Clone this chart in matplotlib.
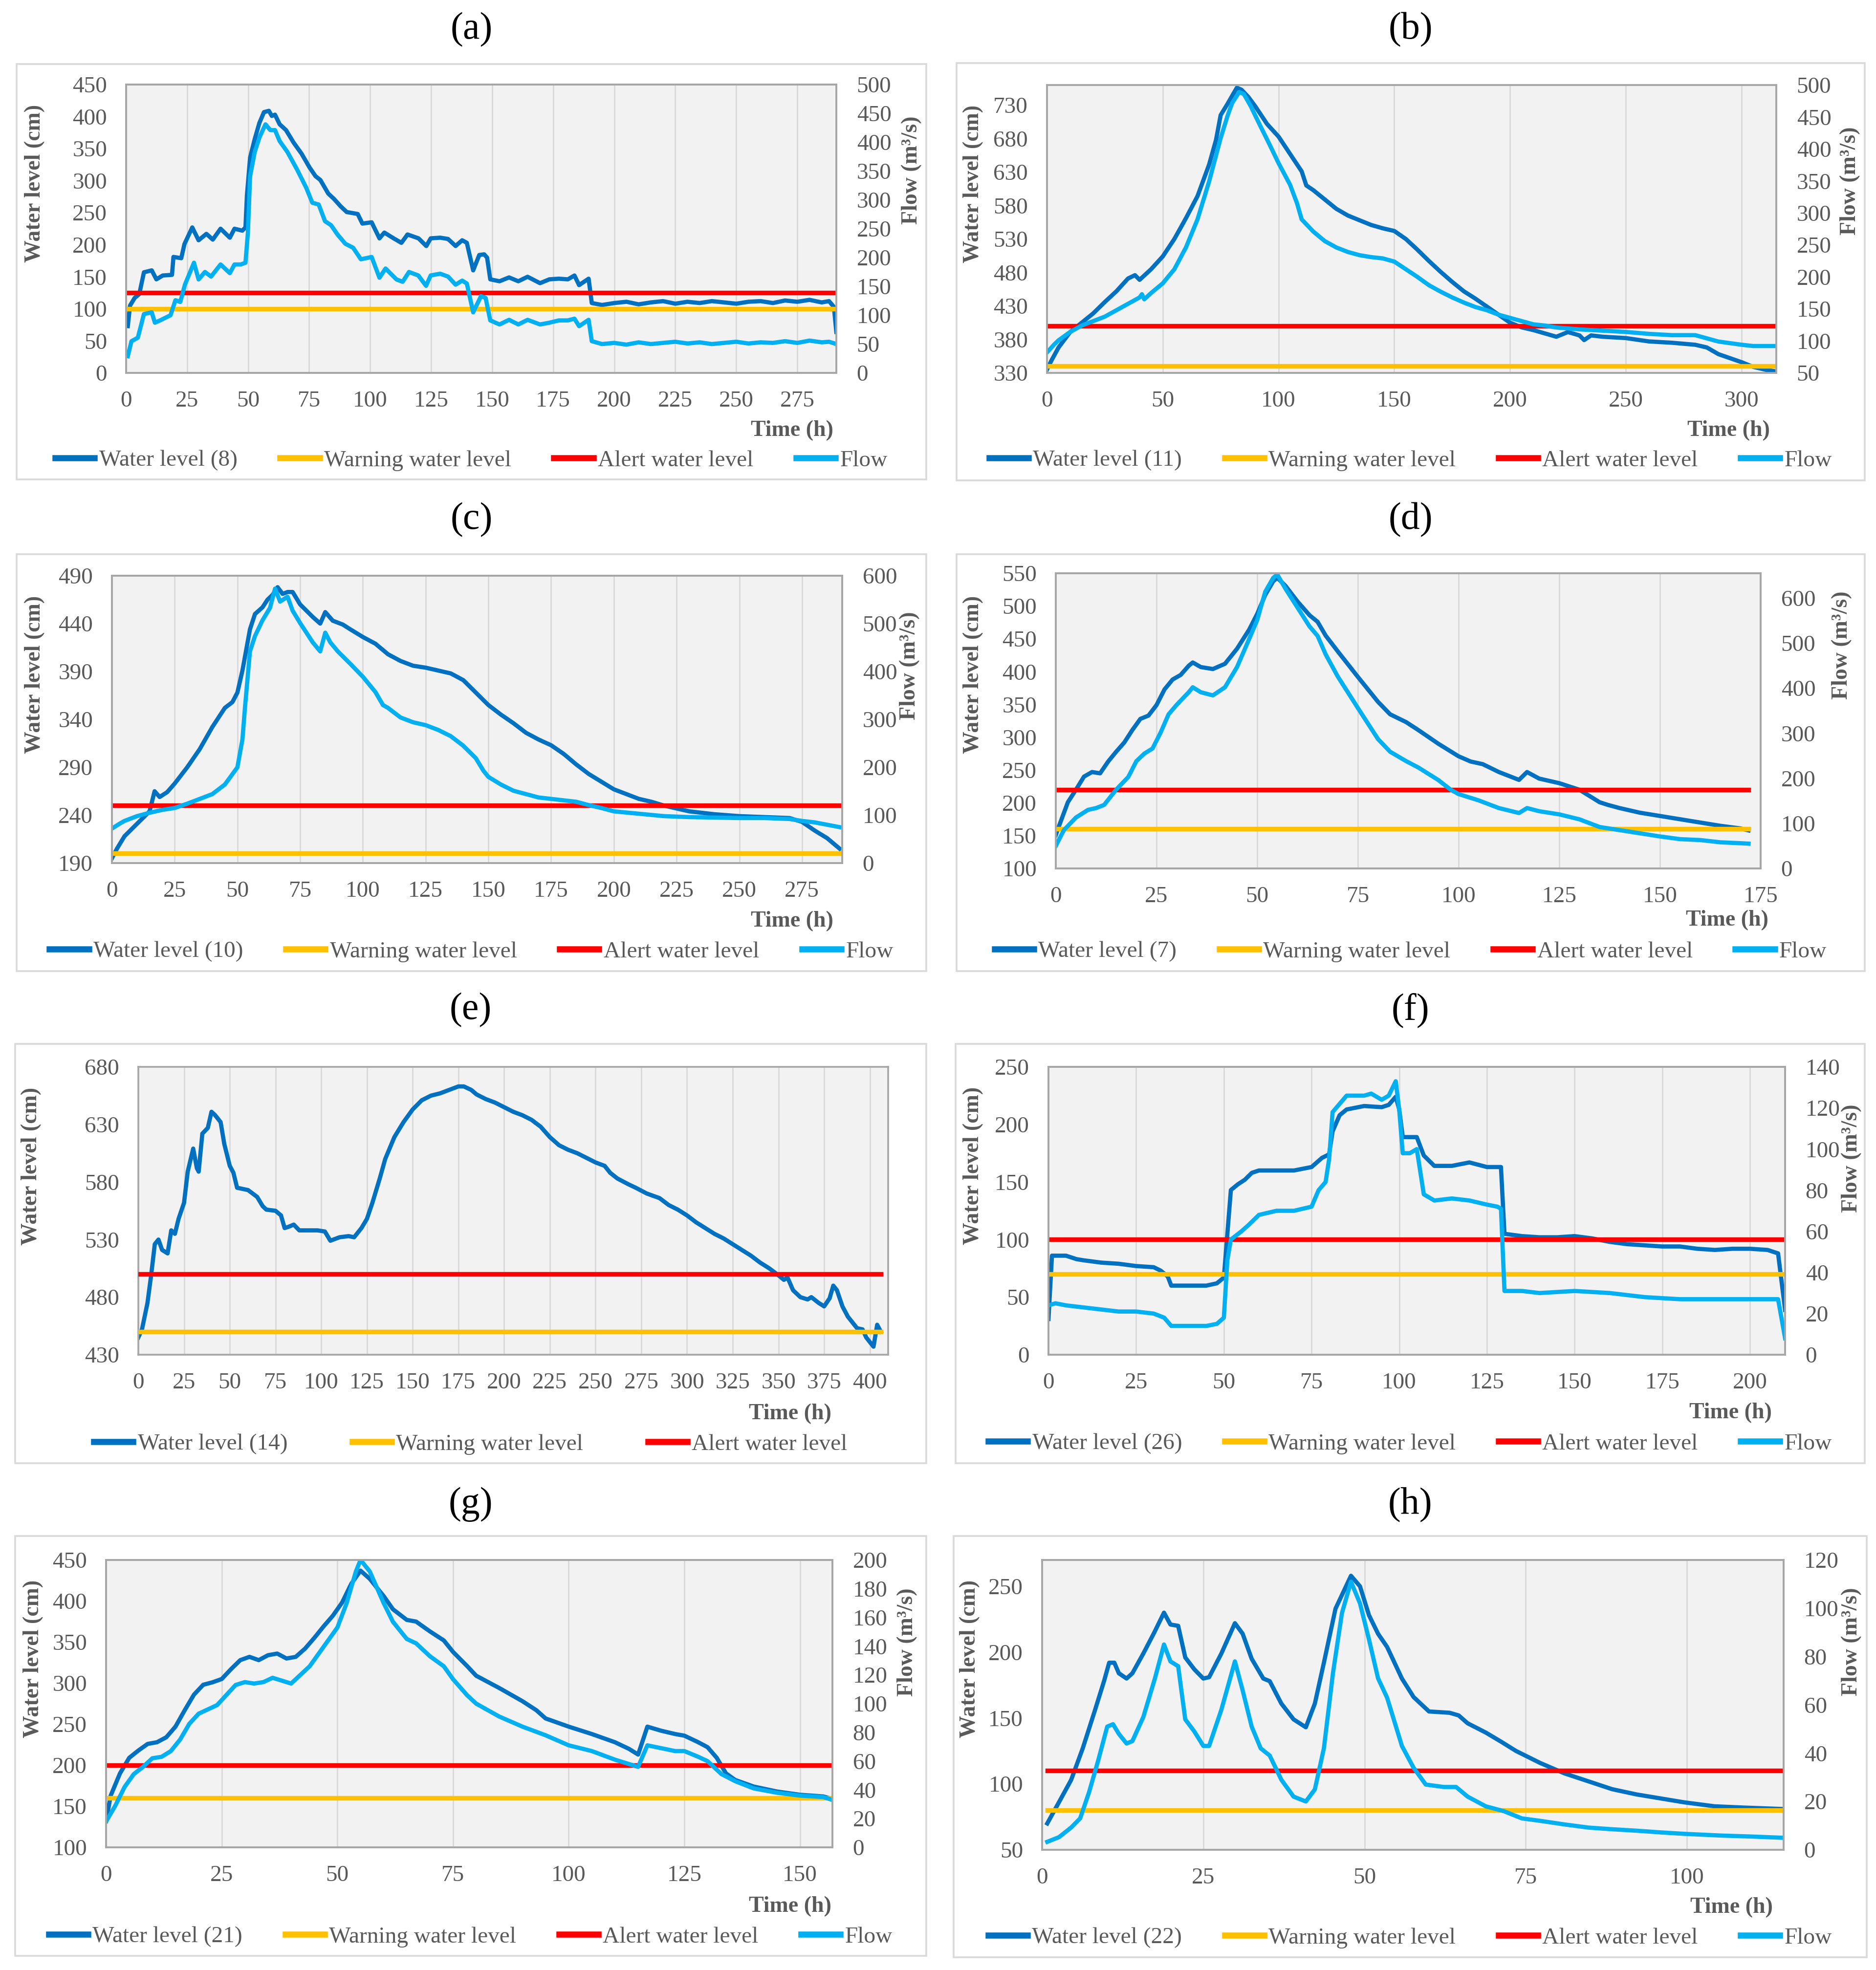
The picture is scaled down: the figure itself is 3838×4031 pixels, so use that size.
import matplotlib
matplotlib.use("Agg")
import matplotlib.pyplot as plt
from matplotlib.patches import Rectangle
from matplotlib.lines import Line2D

plt.rcParams["font.family"] = ["Liberation Serif", "DejaVu Serif"]

W, H, DPI = 3838, 4031, 200

DARK = "#0070C0"
LIGHT = "#00B0F0"
YELLOW = "#FFC000"
RED = "#FF0000"
TXT = "#595959"

# ---------------- (a) station 8 ----------------
a_level_h = [0.7, 1.6, 3.5, 5.4, 7.3, 10.5, 12.4, 15, 18.8, 19.4, 22.6, 23.9, 27.1, 29.7, 32.9, 35.5,
             38.7, 42.5, 44.4, 47.6, 48.9, 49.5, 50.8, 52.7, 54.6, 56.5, 58.5, 59.7, 61, 62.9, 65.5,
             68.7, 71.9, 75.1, 77.6, 79.6, 82.8, 85.3, 87.9, 90.4, 94.9, 96.8, 100.6, 103.8, 105.8,
             109.6, 112.8, 115.3, 119.8, 123, 124.8, 128.7, 131.9, 135, 137.7, 139.6, 142.2, 144.7,
             146.7, 147.9, 149.2, 153, 156.9, 160.7, 164.5, 169.6, 173.4, 177.3, 181, 183.7, 185.6,
             189.5, 190.8, 195, 200, 205, 210, 215, 220, 225, 230, 235, 240, 245, 250, 255, 260, 265,
             270, 275, 280, 285, 288, 290, 291]
a_level = [73, 105, 117, 123, 157, 160, 146, 152, 153, 181, 179, 201, 227, 207, 217, 208,
           225, 211, 225, 222, 227, 277, 336, 365, 390, 407, 409, 401, 403, 388, 379,
           359, 342, 321, 307, 301, 280, 271, 260, 251, 248, 233, 235, 210, 219,
           210, 203, 216, 210, 198, 210, 211, 209, 198, 207, 203, 160, 184,
           185, 180, 146, 143, 149, 143, 150, 140, 146, 147, 146, 152, 137,
           147, 109, 106, 109, 111, 107, 110, 112, 108, 111, 109, 112, 110, 108, 111, 112, 109,
           113, 111, 114, 110, 112, 103, 64]
a_flow_h = [0.7, 2.2, 4.8, 7.3, 10.5, 11.8, 14.4, 18.2, 20.2, 22.2, 24.1, 27.8, 29.7, 32.3, 34.8,
            38.7, 42.5, 44.4, 47, 48.9, 49.9, 50.8, 52.7, 54.6, 57.1, 59.1, 61, 62.9, 66.1, 70,
            73.8, 76.3, 78.9, 81.5, 84, 86.6, 89.8, 93, 96.2, 100.6, 103.8, 106.3, 110.8, 113.3,
            115.9, 119.7, 122.9, 124.8, 128.7, 131.9, 135, 137.7, 139.6, 142.2, 145.4, 147.3,
            149.2, 153, 156.9, 160.7, 164.5, 169.6, 173.4, 177.3, 181, 183.7, 185.6, 189.5,
            190.8, 195, 200, 205, 210, 215, 220, 225, 230, 235, 240, 245, 250, 255, 260, 265, 270,
            275, 280, 285, 288, 291]
a_flow = [29, 55, 61, 102, 105, 87, 92, 100, 126, 123, 153, 191, 162, 175, 167,
          188, 173, 188, 188, 191, 243, 341, 383, 408, 431, 421, 421, 402, 383, 353,
          321, 295, 292, 263, 256, 240, 224, 217, 197, 201, 165, 181, 162, 158,
          175, 169, 151, 169, 172, 167, 153, 160, 155, 105, 133, 130,
          91, 84, 92, 84, 92, 84, 87, 91, 91, 94, 81, 92,
          55, 50, 52, 49, 53, 50, 52, 54, 51, 53, 50, 52, 54, 51, 53, 52, 55,
          52, 56, 53, 54, 50]
a_warning, a_alert = 100, 125

# ---------------- (b) station 11 ----------------
b_level_h = [0, 2, 5, 10, 15, 20, 25, 30, 35, 38, 40, 45, 50, 55, 60, 65, 70, 73, 75, 78, 80, 82,
             84, 87, 90, 95, 100, 105, 110, 112, 115, 120, 125, 130, 135, 140, 145, 150, 155, 160,
             165, 170, 175, 180, 185, 190, 195, 200, 205, 210, 215, 220, 225, 230, 232, 235, 240,
             250, 260, 270, 280, 285, 290, 300, 305, 310, 315]
b_level = [335, 349, 368, 391, 405, 419, 436, 452, 471, 476, 469, 485, 504, 530, 561, 594, 641, 678, 715, 732, 744, 756,
           753, 742, 728, 702, 683, 657, 631, 610, 603, 589, 575, 565, 558, 551, 546, 542, 530, 514,
           497, 481, 466, 452, 441, 429, 417, 405, 398, 394, 389, 384, 391, 386, 379, 386, 384,
           382, 377, 375, 372, 368, 358, 346, 339, 335, 332]
b_flow_h = [0, 3, 5, 10, 15, 20, 25, 30, 35, 40, 41, 42, 45, 50, 55, 60, 65, 70, 75, 78, 80, 83,
            85, 88, 92, 96, 100, 105, 108, 110, 115, 120, 125, 130, 135, 140, 145, 150, 155, 160,
            165, 170, 175, 180, 185, 190, 195, 200, 205, 210, 215, 220, 230, 240, 250, 260, 270,
            280, 285, 290, 300, 305, 315]
b_flow = [82, 94, 101, 114, 124, 131, 138, 148, 158, 168, 173, 165, 175, 190, 212, 246, 290, 349, 417, 452, 472, 489,
          486, 467, 437, 408, 378, 344, 315, 290, 271, 256, 246, 239, 234, 231, 229, 224, 212, 200,
          187, 177, 168, 160, 153, 148, 141, 136, 131, 126, 124, 121, 118, 116, 114, 111, 109,
          109, 104, 99, 94, 92, 92]
b_warning, b_alert = 340, 400

# ---------------- (c) station 10 ----------------
c_level_h = [0, 2, 5, 10, 15, 17, 19, 22, 25, 30, 35, 40, 45, 48, 50, 52, 55, 57, 60, 62, 64, 66,
             68, 70, 72, 75, 80, 83, 85, 88, 92, 95, 100, 105, 110, 115, 120, 125, 130, 135, 140,
             145, 150, 155, 160, 165, 170, 175, 180, 185, 190, 195, 200, 205, 210, 215, 220, 225,
             230, 240, 250, 260, 270, 275, 280, 285, 290]
c_level = [195, 205, 218, 231, 244, 265, 259, 264, 273, 290, 309, 332, 352, 358, 368, 391, 434, 450, 457, 465, 470, 478,
           471, 473, 473, 460, 447, 440, 452, 443, 439, 434, 426, 419, 408, 401, 396, 394, 391, 388, 381,
           368, 355, 345, 336, 326, 319, 313, 304, 293, 283, 275, 267, 262, 257, 254, 250, 247,
           244, 241, 239, 238, 237, 233, 224, 216, 205]
c_flow_h = [0, 3, 5, 10, 15, 20, 25, 30, 35, 40, 45, 50, 52, 53, 55, 57, 60, 63, 65, 67, 70, 72,
            75, 80, 83, 85, 87, 90, 95, 100, 105, 108, 110, 115, 120, 125, 130, 135, 140, 145,
            148, 150, 155, 160, 165, 170, 175, 180, 185, 190, 195, 200, 210, 220, 230, 240, 250,
            260, 270, 275, 280, 290]
c_flow = [72, 82, 88, 98, 105, 111, 115, 124, 134, 144, 164, 200, 258, 324, 442, 474, 507, 533, 573, 546, 556, 527,
          501, 461, 442, 481, 461, 442, 416, 389, 357, 330, 324, 304, 294, 288, 278, 265, 245, 219,
          193, 180, 164, 151, 144, 137, 134, 131, 128, 121, 115, 108, 103, 98, 96, 95, 94,
          94, 92, 88, 85, 75]
c_warning, c_alert = 200, 250

# ---------------- (d) station 7 ----------------
d_level_h = [0, 1, 3, 5, 7, 9, 11, 13, 15, 17, 19, 21, 23, 25, 27, 29, 31, 33, 34, 36, 39, 42,
             45, 48, 50, 52, 54, 55, 57, 60, 63, 65, 67, 70, 75, 80, 83, 87, 90, 95, 100, 103,
             106, 110, 115, 117, 120, 125, 130, 135, 137, 140, 145, 150, 155, 160, 165, 170, 172]
d_level = [151, 168, 201, 220, 240, 247, 245, 263, 278, 292, 311, 328, 333, 349, 373, 388, 395, 409, 414, 407, 404, 412,
           435, 464, 488, 517, 538, 543, 531, 507, 486, 476, 455, 431, 392, 354, 335, 323, 311, 290, 271, 263,
           259, 247, 235, 247, 237, 230, 220, 201, 197, 192, 185, 180, 175, 170, 165, 161, 158]
d_flow_h = [0, 2, 5, 8, 10, 12, 15, 18, 20, 22, 24, 26, 28, 30, 33, 34, 36, 39, 42, 45, 48, 50,
            52, 54, 55, 57, 60, 63, 65, 67, 70, 75, 80, 83, 87, 90, 95, 98, 100, 105, 110, 115,
            117, 120, 125, 130, 135, 140, 145, 150, 155, 160, 165, 170, 172]
d_flow = [50, 85, 113, 130, 134, 141, 175, 203, 238, 255, 266, 301, 342, 363, 391, 402, 391, 384, 402, 447, 509, 551,
          614, 645, 652, 621, 579, 537, 516, 475, 426, 356, 287, 259, 238, 224, 196, 175, 165, 151, 134, 123,
          134, 127, 120, 109, 92, 85, 78, 71, 65, 63, 58, 56, 55]
d_warning, d_alert = 160, 220

# ---------------- (e) station 14 ----------------
e_level_h = [0, 2, 5, 7, 9, 11, 13, 16, 18, 20, 22, 25, 27, 30, 32, 33, 35, 38, 40, 42, 45, 47,
             50, 52, 54, 57, 60, 65, 68, 70, 75, 78, 80, 82, 85, 88, 92, 98, 102, 105, 110, 115,
             118, 122, 125, 128, 132, 135, 140, 145, 150, 155, 160, 165, 170, 175, 178, 182, 185,
             190, 195, 200, 205, 210, 215, 220, 225, 230, 235, 240, 245, 250, 255, 258, 262, 268,
             272, 278, 285, 290, 295, 300, 305, 310, 315, 320, 325, 330, 335, 340, 345, 350, 353,
             355, 358, 362, 366, 368, 372, 375, 378, 380, 382, 385, 388, 390, 393, 396, 398, 402,
             404, 406]
e_level = [445, 452, 475, 499, 526, 530, 521, 518, 538, 535, 548, 562, 589, 609, 592, 589, 622, 627, 641, 638, 632, 613,
           594, 588, 575, 574, 573, 567, 559, 556, 555, 551, 540, 541, 543, 538, 538, 538, 537, 529, 532, 533,
           532, 540, 548, 562, 583, 600, 619, 632, 643, 651, 655, 657, 660, 663, 663, 660, 656,
           652, 649, 645, 641, 638, 634, 628, 619, 612, 608, 605, 601, 597, 594, 588, 583, 578,
           575, 570, 566, 560, 556, 551, 545, 540, 535, 531, 526, 521, 516, 510, 505, 499, 495,
           497, 486, 480, 478, 480, 475, 472, 479, 490, 486, 472, 463, 459, 453, 452, 445, 437,
           456, 450]
e_warning, e_alert = 450, 500

# ---------------- (f) station 26 ----------------
f_level_h = [0, 1, 5, 8, 10, 15, 20, 25, 30, 32, 34, 35, 40, 45, 48, 50, 51, 52, 54, 56, 58, 60,
             65, 70, 75, 78, 80, 81, 83, 85, 90, 95, 97, 99, 100, 101, 105, 107, 110, 115, 120,
             125, 129, 130, 135, 140, 145, 150, 155, 160, 165, 170, 175, 180, 185, 190, 195, 200,
             205, 208, 210]
f_level = [31, 86, 86, 83, 82, 80, 79, 77, 76, 73, 68, 60, 60, 60, 62, 67, 105, 143, 148, 152, 158, 160,
           160, 160, 163, 171, 174, 194, 208, 213, 216, 215, 217, 224, 213, 189, 189, 173, 164, 164, 167,
           163, 163, 105, 103, 102, 102, 103, 101, 98, 96, 95, 94, 94, 92, 91, 92, 92,
           91, 88, 39]
f_flow_h = [0, 2, 5, 10, 15, 20, 25, 30, 33, 35, 40, 45, 48, 50, 51, 52, 55, 57, 60, 65, 70, 75,
            77, 79, 80, 81, 83, 85, 88, 90, 92, 95, 97, 99, 100, 101, 103, 105, 107, 110, 115,
            120, 125, 128, 129, 130, 135, 140, 150, 160, 170, 180, 190, 200, 208, 210]
f_flow = [24, 25, 24, 23, 22, 21, 21, 20, 18, 14, 14, 14, 15, 18, 46, 56, 60, 63, 68, 70, 70, 72,
          80, 84, 95, 118, 122, 126, 126, 126, 127, 124, 126, 133, 119, 98, 98, 100, 78, 75, 76,
          75, 73, 72, 71, 31, 31, 30, 31, 30, 28, 27, 27, 27, 27, 8]
f_warning, f_alert = 70, 100

# ---------------- (g) station 21 ----------------
g_level_h = [0, 1, 3, 5, 7, 9, 11, 13, 15, 17, 19, 21, 23, 25, 27, 29, 31, 33, 35, 37, 39, 41,
             43, 45, 47, 49, 51, 53, 55, 57, 60, 62, 65, 67, 70, 73, 75, 78, 80, 85, 90, 93,
             95, 100, 105, 110, 113, 115, 117, 120, 123, 125, 128, 130, 132, 134, 136, 140, 145,
             150, 155, 157]
g_level = [132, 163, 190, 209, 218, 226, 228, 234, 247, 267, 286, 298, 301, 305, 317, 328, 332, 328, 334, 336, 330, 332,
           342, 355, 369, 382, 398, 421, 437, 427, 406, 390, 377, 375, 363, 352, 338, 321, 309, 294, 278, 267,
           257, 247, 238, 228, 220, 213, 247, 242, 238, 236, 228, 222, 209, 190, 182, 174, 168,
           164, 162, 159]
g_flow_h = [0, 2, 4, 6, 8, 10, 12, 14, 16, 18, 20, 22, 24, 26, 28, 30, 32, 34, 36, 38, 40, 42,
            44, 46, 48, 50, 52, 54, 55, 57, 60, 62, 65, 67, 70, 73, 75, 78, 80, 85, 90, 95,
            100, 105, 110, 113, 115, 117, 120, 123, 125, 128, 130, 133, 136, 140, 145, 150, 155,
            157]
g_flow = [18, 29, 42, 51, 56, 62, 63, 67, 75, 86, 93, 96, 99, 106, 113, 115, 114, 115, 118, 116, 114, 120,
          126, 135, 144, 153, 170, 192, 200, 192, 170, 157, 145, 142, 133, 126, 117, 106, 100, 91, 84, 78,
          71, 67, 61, 58, 56, 71, 69, 67, 67, 63, 60, 51, 46, 41, 38, 36, 35,
          33]
g_warning, g_alert = 160, 200

# ---------------- (h) station 22 ----------------
h_level_h = [0.8, 2.6, 4.5, 6.3, 8.2, 9.6, 10.4, 11.2, 11.9, 13.1, 14.0, 15.7, 17.4, 18.9, 19.9, 21.1,
             22.2, 23.6, 25.0, 25.9, 27.8, 29.9, 31.1, 32.5, 34.3, 35.3, 37.1, 39.0, 40.9, 42.3,
             43.7, 45.5, 47.9, 49.3, 50.7, 52.1, 53.5, 55.8, 57.6, 60.0, 63.2, 64.6, 66.0, 68.8,
             71.2, 73.5, 77.2, 81.0, 84.7, 88.4, 92.2, 95.9, 99.6, 104.3, 109.0, 114.6]
h_level = [70, 86, 103, 127, 156, 178, 192, 192, 184, 180, 184, 199, 215, 230, 221, 220,
           196, 187, 180, 181, 199, 222, 214, 195, 180, 178, 161, 149, 143, 161,
           192, 233, 258, 250, 228, 214, 204, 180, 166, 155, 154, 152, 146, 139,
           132, 125, 116, 108, 102, 96, 92, 89, 86, 83, 82, 81]
h_flow_h = [0.8, 2.6, 4.5, 5.9, 7.3, 8.7, 10.1, 11.0, 11.9, 13.1, 14.0, 15.7, 17.5, 18.9, 19.9, 21.1,
            22.2, 23.6, 25.0, 25.9, 27.8, 29.9, 31.1, 32.5, 33.9, 35.3, 37.1, 39.0, 40.9, 42.3,
            43.7, 45.1, 46.5, 47.9, 49.3, 50.7, 52.1, 53.5, 55.8, 57.6, 59.5, 62.3, 64.2, 66.0,
            68.8, 71.6, 74.4, 77.2, 81.0, 84.7, 88.4, 92.2, 95.9, 99.6, 105.2, 109.9, 114.6]
h_flow = [3.3, 5.2, 9.2, 13, 24, 37, 51, 52, 48, 44, 45, 55, 71, 85, 78, 76,
          54, 49, 43, 43, 58, 78, 66, 51, 42, 39, 29, 22, 20, 25,
          42, 73, 98, 111, 102, 87, 71, 63, 43, 34, 27, 26, 26, 22,
          18, 16, 13, 12, 10.5, 9.2, 8.5, 7.9, 7.2, 6.6, 5.9, 5.5, 5.0]
h_warning, h_alert = 80, 110

# layout, in pixels of the final image: box, axes, title y, label x/y, legend y
PANELS = [
    dict(tag="(a)", name="Water level (8)", t=a_level_h, wl=a_level, qt=a_flow_h, q=a_flow,
         warn=a_warning, alert=a_alert, xlim=291, xt=range(0, 276, 25),
         yl=(0, 450), yt=range(0, 451, 50), ql=(0, 500), qt_ticks=range(0, 501, 50),
         box=(34, 131, 1895, 981), ax=(258, 173, 1711, 763), title_y=61,
         lab_l=(71, 375), lab_r=(1865, 348), time=(1705, 881), leg_y=942),
    dict(tag="(b)", name="Water level (11)", t=b_level_h, wl=b_level, qt=b_flow_h, q=b_flow,
         warn=b_warning, alert=b_alert, xlim=315, xt=range(0, 301, 50),
         yl=(330, 760), yt=range(330, 731, 50), ql=(50, 500), qt_ticks=range(50, 501, 50),
         box=(1957, 129, 3815, 983), ax=(2142, 174, 3634, 763), title_y=61,
         lab_l=(1991, 376), lab_r=(3785, 370), time=(3621, 881), leg_y=942),
    dict(tag="(c)", name="Water level (10)", t=c_level_h, wl=c_level, qt=c_flow_h, q=c_flow,
         warn=c_warning, alert=c_alert, xlim=291, xt=range(0, 276, 25),
         yl=(190, 490), yt=range(190, 491, 50), ql=(0, 600), qt_ticks=range(0, 601, 100),
         box=(34, 1134, 1895, 1987), ax=(229, 1178, 1723, 1766), title_y=1064,
         lab_l=(71, 1380), lab_r=(1861, 1362), time=(1705, 1885), leg_y=1947),
    dict(tag="(d)", name="Water level (7)", t=d_level_h, wl=d_level, qt=d_flow_h, q=d_flow,
         warn=d_warning, alert=d_alert, xlim=175, xt=range(0, 176, 25),
         yl=(100, 550), yt=range(100, 551, 50), ql=(0, 655), qt_ticks=range(0, 601, 100),
         box=(1957, 1134, 3815, 1987), ax=(2160, 1173, 3602, 1777), title_y=1064,
         lab_l=(1991, 1380), lab_r=(3768, 1320), time=(3618, 1883), leg_y=1947),
    dict(tag="(e)", name="Water level (14)", t=e_level_h, wl=e_level, qt=None, q=None,
         warn=e_warning, alert=e_alert, xlim=410, xt=range(0, 401, 25),
         yl=(430, 680), yt=range(430, 681, 50), ql=None, qt_ticks=None,
         box=(31, 2136, 1895, 2994), ax=(283, 2183, 1817, 2772), title_y=2067,
         lab_l=(64, 2386), lab_r=None, time=(1701, 2893), leg_y=2955),
    dict(tag="(f)", name="Water level (26)", t=f_level_h, wl=f_level, qt=f_flow_h, q=f_flow,
         warn=f_warning, alert=f_alert, xlim=210, xt=range(0, 201, 25),
         yl=(0, 250), yt=range(0, 251, 50), ql=(0, 140), qt_ticks=range(0, 141, 20),
         box=(1955, 2136, 3815, 2994), ax=(2145, 2183, 3652, 2772), title_y=2067,
         lab_l=(1991, 2385), lab_r=(3788, 2370), time=(3625, 2891), leg_y=2954),
    dict(tag="(g)", name="Water level (21)", t=g_level_h, wl=g_level, qt=g_flow_h, q=g_flow,
         warn=g_warning, alert=g_alert, xlim=157, xt=range(0, 151, 25),
         yl=(100, 450), yt=range(100, 451, 50), ql=(0, 200), qt_ticks=range(0, 201, 20),
         box=(31, 3143, 1895, 4002), ax=(217, 3192, 1703, 3780), title_y=3078,
         lab_l=(68, 3394), lab_r=(1856, 3360), time=(1701, 3901), leg_y=3963),
    dict(tag="(h)", name="Water level (22)", t=h_level_h, wl=h_level, qt=h_flow_h, q=h_flow,
         warn=h_warning, alert=h_alert, xlim=115, xt=range(0, 101, 25),
         yl=(50, 270), yt=range(50, 251, 50), ql=(0, 120), qt_ticks=range(0, 121, 20),
         box=(1951, 3143, 3819, 4005), ax=(2132, 3192, 3649, 3785), title_y=3078,
         lab_l=(1984, 3394), lab_r=(3788, 3359), time=(3627, 3903), leg_y=3965),
]


def fx(x):
    return x / W


def fy(y):
    return 1 - y / H


def style_spines(ax):
    for s in ax.spines.values():
        s.set_color("#A6A6A6")
        s.set_linewidth(1.3)


def draw_panel(fig, p):
    x0, y0, x1, y1 = p["box"]
    fig.patches.append(Rectangle((fx(x0), fy(y1)), (x1 - x0) / W, (y1 - y0) / H,
                                 transform=fig.transFigure, fill=False,
                                 ec="#D9D9D9", lw=1.3))
    fig.text(fx((x0 + x1) / 2), fy(p["title_y"]), p["tag"], fontsize=28,
             ha="center", va="center", color="black")

    a0, b0, a1, b1 = p["ax"]
    ax = fig.add_axes([fx(a0), fy(b1), (a1 - a0) / W, (b1 - b0) / H])
    ax.set_facecolor("#F2F2F2")
    ax.set_xlim(0, p["xlim"])
    ax.set_ylim(*p["yl"])
    ax.set_xticks(list(p["xt"]))
    ax.set_yticks(list(p["yt"]))
    ax.grid(axis="x", color="#D9D9D9", lw=1.0)
    ax.set_axisbelow(True)
    ax.tick_params(axis="both", length=0, labelsize=17, labelcolor=TXT)
    ax.tick_params(axis="x", pad=13)
    ax.tick_params(axis="y", pad=14)
    style_spines(ax)

    t = p["t"]
    ax.plot(t, p["wl"], color=DARK, lw=3.1, zorder=2)
    ax.plot([t[0], t[-1]], [p["warn"], p["warn"]], color=YELLOW, lw=3.4, zorder=3)
    ax.plot([t[0], t[-1]], [p["alert"], p["alert"]], color=RED, lw=3.4, zorder=4)

    handles = [Line2D([], [], color=DARK, lw=4.5),
               Line2D([], [], color=YELLOW, lw=4.5),
               Line2D([], [], color=RED, lw=4.5)]
    labels = [p["name"], "Warning water level", "Alert water level"]

    if p["q"] is not None:
        ax2 = ax.twinx()
        ax2.plot(p["qt"], p["q"], color=LIGHT, lw=3.1)
        ax2.set_ylim(*p["ql"])
        ax2.set_yticks(list(p["qt_ticks"]))
        ax2.tick_params(axis="y", length=0, labelsize=17, labelcolor=TXT, pad=15)
        style_spines(ax2)
        handles.append(Line2D([], [], color=LIGHT, lw=4.5))
        labels.append("Flow")
        fig.text(fx(p["lab_r"][0]), fy(p["lab_r"][1]), "Flow (m³/s)", rotation=90,
                 fontsize=16.5, fontweight="bold", color=TXT, ha="center", va="center")
        spacing = 1.85
    else:
        spacing = 2.8

    fig.text(fx(p["lab_l"][0]), fy(p["lab_l"][1]), "Water level (cm)", rotation=90,
             fontsize=16.5, fontweight="bold", color=TXT, ha="center", va="center")
    fig.text(fx(p["time"][0]), fy(p["time"][1]), "Time (h)", fontsize=16.5,
             fontweight="bold", color=TXT, ha="right", va="center")

    fig.legend(handles, labels, loc="center", ncol=len(labels),
               bbox_to_anchor=(fx((x0 + x1) / 2), fy(p["leg_y"])),
               frameon=False, fontsize=17, labelcolor=TXT, handlelength=1.7,
               handletextpad=0.2, columnspacing=spacing, borderaxespad=0)


def main():
    fig = plt.figure(figsize=(W / DPI, H / DPI), dpi=DPI)
    fig.patch.set_facecolor("white")
    for p in PANELS:
        draw_panel(fig, p)
    fig.savefig("out.png", dpi=DPI)
    plt.close(fig)


if __name__ == "__main__":
    main()
